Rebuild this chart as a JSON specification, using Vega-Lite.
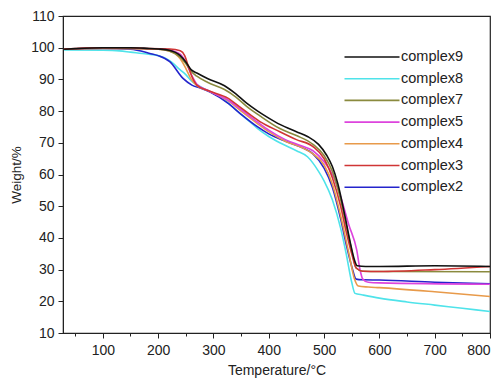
{
  "$schema": "https://vega.github.io/schema/vega-lite/v6.json",
  "width": 427,
  "height": 317,
  "autosize": {"type": "none"},
  "padding": {"left": 63, "top": 16, "right": 14, "bottom": 51},
  "background": "white",
  "config": {
    "view": {"stroke": "#222", "strokeWidth": 1.2},
    "font": "Liberation Sans"
  },
  "datasets": {
    "tga": [
      {"s":"complex8","t":30,"w":99.3},{"s":"complex8","t":100,"w":99.2},{"s":"complex8","t":130,"w":99.0},{"s":"complex8","t":150,"w":98.6},{"s":"complex8","t":180,"w":98.0},{"s":"complex8","t":200,"w":97.5},{"s":"complex8","t":220,"w":96.0},{"s":"complex8","t":240,"w":93.0},{"s":"complex8","t":250,"w":91.5},{"s":"complex8","t":260,"w":89.5},{"s":"complex8","t":270,"w":88.3},{"s":"complex8","t":290,"w":86.5},{"s":"complex8","t":320,"w":83.5},{"s":"complex8","t":340,"w":80.5},{"s":"complex8","t":360,"w":77.5},{"s":"complex8","t":380,"w":74.5},{"s":"complex8","t":400,"w":72.0},{"s":"complex8","t":420,"w":70.0},{"s":"complex8","t":450,"w":67.5},{"s":"complex8","t":470,"w":65.6},{"s":"complex8","t":490,"w":61.0},{"s":"complex8","t":500,"w":58.0},{"s":"complex8","t":515,"w":52.0},{"s":"complex8","t":530,"w":43.0},{"s":"complex8","t":540,"w":35.0},{"s":"complex8","t":550,"w":26.0},{"s":"complex8","t":556,"w":22.5},{"s":"complex8","t":570,"w":22.0},{"s":"complex8","t":600,"w":21.0},{"s":"complex8","t":650,"w":19.8},{"s":"complex8","t":700,"w":18.8},{"s":"complex8","t":750,"w":17.8},{"s":"complex8","t":800,"w":16.8},

      {"s":"complex2","t":30,"w":99.5},{"s":"complex2","t":100,"w":99.8},{"s":"complex2","t":150,"w":99.5},{"s":"complex2","t":185,"w":98.2},{"s":"complex2","t":200,"w":97.5},{"s":"complex2","t":221,"w":95.6},{"s":"complex2","t":245,"w":90.3},{"s":"complex2","t":261,"w":88.2},{"s":"complex2","t":276,"w":87.3},{"s":"complex2","t":294,"w":86.0},{"s":"complex2","t":326,"w":82.5},{"s":"complex2","t":350,"w":79.0},{"s":"complex2","t":380,"w":75.0},{"s":"complex2","t":400,"w":72.8},{"s":"complex2","t":430,"w":70.5},{"s":"complex2","t":460,"w":68.5},{"s":"complex2","t":480,"w":66.5},{"s":"complex2","t":500,"w":62.0},{"s":"complex2","t":515,"w":56.0},{"s":"complex2","t":530,"w":46.0},{"s":"complex2","t":540,"w":38.0},{"s":"complex2","t":550,"w":31.0},{"s":"complex2","t":558,"w":27.0},{"s":"complex2","t":570,"w":26.8},{"s":"complex2","t":600,"w":26.7},{"s":"complex2","t":700,"w":26.0},{"s":"complex2","t":800,"w":25.5},

      {"s":"complex4","t":30,"w":99.5},{"s":"complex4","t":100,"w":99.8},{"s":"complex4","t":200,"w":99.5},{"s":"complex4","t":220,"w":99.0},{"s":"complex4","t":240,"w":96.5},{"s":"complex4","t":250,"w":93.5},{"s":"complex4","t":260,"w":90.0},{"s":"complex4","t":270,"w":88.0},{"s":"complex4","t":290,"w":86.5},{"s":"complex4","t":326,"w":83.3},{"s":"complex4","t":350,"w":80.0},{"s":"complex4","t":380,"w":76.0},{"s":"complex4","t":400,"w":73.5},{"s":"complex4","t":430,"w":70.5},{"s":"complex4","t":460,"w":68.5},{"s":"complex4","t":480,"w":66.5},{"s":"complex4","t":500,"w":63.0},{"s":"complex4","t":515,"w":57.0},{"s":"complex4","t":530,"w":47.0},{"s":"complex4","t":545,"w":35.0},{"s":"complex4","t":555,"w":27.0},{"s":"complex4","t":562,"w":24.8},{"s":"complex4","t":580,"w":24.5},{"s":"complex4","t":600,"w":24.3},{"s":"complex4","t":700,"w":23.0},{"s":"complex4","t":800,"w":21.5},

      {"s":"complex5","t":30,"w":99.5},{"s":"complex5","t":100,"w":99.9},{"s":"complex5","t":200,"w":99.6},{"s":"complex5","t":220,"w":99.3},{"s":"complex5","t":240,"w":98.0},{"s":"complex5","t":250,"w":95.5},{"s":"complex5","t":260,"w":91.5},{"s":"complex5","t":270,"w":88.5},{"s":"complex5","t":290,"w":86.5},{"s":"complex5","t":326,"w":83.5},{"s":"complex5","t":350,"w":80.5},{"s":"complex5","t":380,"w":76.5},{"s":"complex5","t":400,"w":74.0},{"s":"complex5","t":430,"w":71.0},{"s":"complex5","t":460,"w":69.0},{"s":"complex5","t":480,"w":67.5},{"s":"complex5","t":500,"w":64.0},{"s":"complex5","t":515,"w":60.0},{"s":"complex5","t":530,"w":53.0},{"s":"complex5","t":545,"w":44.0},{"s":"complex5","t":559,"w":36.2},{"s":"complex5","t":565,"w":30.0},{"s":"complex5","t":570,"w":27.0},{"s":"complex5","t":580,"w":26.0},{"s":"complex5","t":600,"w":25.8},{"s":"complex5","t":800,"w":25.4},

      {"s":"complex7","t":30,"w":99.5},{"s":"complex7","t":100,"w":99.9},{"s":"complex7","t":200,"w":99.5},{"s":"complex7","t":220,"w":99.0},{"s":"complex7","t":240,"w":97.0},{"s":"complex7","t":250,"w":95.0},{"s":"complex7","t":260,"w":92.5},{"s":"complex7","t":270,"w":91.0},{"s":"complex7","t":290,"w":89.0},{"s":"complex7","t":320,"w":86.8},{"s":"complex7","t":340,"w":84.5},{"s":"complex7","t":360,"w":81.5},{"s":"complex7","t":384,"w":78.5},{"s":"complex7","t":420,"w":74.5},{"s":"complex7","t":450,"w":72.3},{"s":"complex7","t":480,"w":69.5},{"s":"complex7","t":500,"w":66.0},{"s":"complex7","t":515,"w":61.0},{"s":"complex7","t":530,"w":52.0},{"s":"complex7","t":540,"w":44.0},{"s":"complex7","t":550,"w":36.0},{"s":"complex7","t":558,"w":30.5},{"s":"complex7","t":570,"w":29.5},{"s":"complex7","t":600,"w":29.4},{"s":"complex7","t":800,"w":29.3},

      {"s":"complex3","t":30,"w":99.6},{"s":"complex3","t":100,"w":100.0},{"s":"complex3","t":150,"w":100.0},{"s":"complex3","t":185,"w":99.7},{"s":"complex3","t":221,"w":99.6},{"s":"complex3","t":240,"w":99.0},{"s":"complex3","t":248,"w":97.5},{"s":"complex3","t":254,"w":94.5},{"s":"complex3","t":261,"w":90.9},{"s":"complex3","t":270,"w":88.2},{"s":"complex3","t":290,"w":86.5},{"s":"complex3","t":326,"w":84.1},{"s":"complex3","t":350,"w":81.0},{"s":"complex3","t":384,"w":76.7},{"s":"complex3","t":420,"w":73.5},{"s":"complex3","t":450,"w":71.0},{"s":"complex3","t":480,"w":68.8},{"s":"complex3","t":500,"w":65.0},{"s":"complex3","t":515,"w":59.0},{"s":"complex3","t":530,"w":50.0},{"s":"complex3","t":540,"w":42.0},{"s":"complex3","t":550,"w":35.0},{"s":"complex3","t":558,"w":30.5},{"s":"complex3","t":570,"w":29.5},{"s":"complex3","t":600,"w":29.4},{"s":"complex3","t":700,"w":30.0},{"s":"complex3","t":800,"w":31.0},

      {"s":"complex9","t":30,"w":99.5},{"s":"complex9","t":50,"w":99.7},{"s":"complex9","t":100,"w":100.0},{"s":"complex9","t":150,"w":100.0},{"s":"complex9","t":180,"w":99.8},{"s":"complex9","t":200,"w":99.6},{"s":"complex9","t":220,"w":99.2},{"s":"complex9","t":240,"w":97.5},{"s":"complex9","t":250,"w":95.5},{"s":"complex9","t":260,"w":93.0},{"s":"complex9","t":270,"w":92.0},{"s":"complex9","t":290,"w":90.2},{"s":"complex9","t":320,"w":88.0},{"s":"complex9","t":340,"w":85.5},{"s":"complex9","t":360,"w":82.5},{"s":"complex9","t":380,"w":80.0},{"s":"complex9","t":400,"w":77.8},{"s":"complex9","t":420,"w":75.8},{"s":"complex9","t":450,"w":73.5},{"s":"complex9","t":470,"w":72.0},{"s":"complex9","t":490,"w":69.5},{"s":"complex9","t":505,"w":66.0},{"s":"complex9","t":515,"w":62.5},{"s":"complex9","t":525,"w":57.0},{"s":"complex9","t":538,"w":46.7},{"s":"complex9","t":548,"w":38.0},{"s":"complex9","t":555,"w":33.0},{"s":"complex9","t":560,"w":31.2},{"s":"complex9","t":575,"w":31.0},{"s":"complex9","t":600,"w":31.0},{"s":"complex9","t":700,"w":31.2},{"s":"complex9","t":800,"w":31.0}
    ]
  },
  "data": {"name": "tga"},
  "mark": {"type": "line", "interpolate": "monotone", "strokeWidth": 1.6, "clip": true},
  "encoding": {
    "x": {
      "field": "t", "type": "quantitative",
      "scale": {"domain": [28, 800], "nice": false, "zero": false},
      "axis": {
        "title": "Temperature/°C",
        "values": [50,100,150,200,250,300,350,400,450,500,550,600,650,700,750,800],
        "labelExpr": "datum.value % 100 === 0 ? datum.label : ''",
        "grid": false,
        "domainColor": "#222", "tickColor": "#222",
        "tickSize": {"condition": {"test": "datum.value % 100 === 0", "value": 5}, "value": 3},
        "labelFontSize": 14, "labelColor": "#222", "labelPadding": 5,
        "titleFontSize": 14, "titleFontWeight": "normal", "titleColor": "#222", "titlePadding": 6
      }
    },
    "y": {
      "field": "w", "type": "quantitative",
      "scale": {"domain": [10, 110], "nice": false, "zero": false},
      "axis": {
        "title": "Weight/%",
        "values": [10,20,30,40,50,60,70,80,90,100,110],
        "grid": false,
        "domainColor": "#222", "tickColor": "#222", "tickSize": 5,
        "labelFontSize": 14, "labelColor": "#222", "labelPadding": 4,
        "titleFontSize": 13.5, "titleFontWeight": "normal", "titleColor": "#222", "titlePadding": 7
      }
    },
    "color": {
      "field": "s", "type": "nominal",
      "scale": {
        "domain": ["complex9","complex8","complex7","complex5","complex4","complex3","complex2"],
        "range": ["#111111","#4FE3EA","#8A8A3E","#DD44DD","#E89A4A","#D03535","#2424CC"]
      },
      "legend": {
        "title": null,
        "orient": "none",
        "legendX": 298,
        "legendY": 30,
        "symbolType": "M-2.75,0H2.75",
        "symbolSize": 400,
        "symbolStrokeWidth": 1.6,
        "symbolFillColor": "transparent",
        "labelFontSize": 14.5,
        "labelColor": "#222",
        "labelOffset": 18,
        "rowPadding": 3.7
      }
    }
  }
}
